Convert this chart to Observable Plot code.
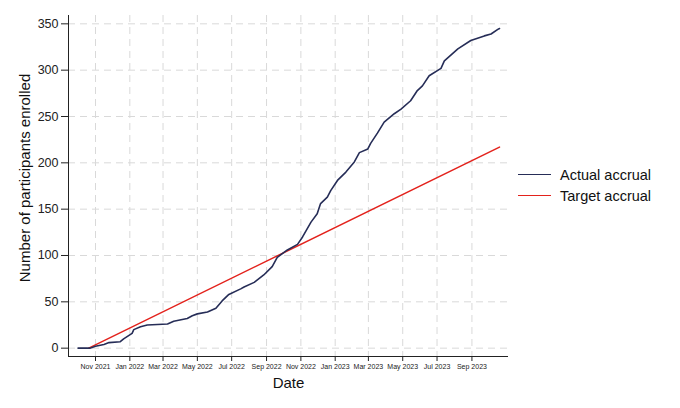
<!DOCTYPE html>
<html>
<head>
<meta charset="utf-8">
<script src="https://cdn.jsdelivr.net/npm/d3@7"></script>
<script src="https://cdn.jsdelivr.net/npm/@observablehq/plot@0.6"></script>
<style>
  html, body { margin: 0; padding: 0; background: #fff; }
  #wrap { position: relative; width: 680px; height: 408px; font-family: "Liberation Sans", Arial, sans-serif; }
  #legend { position: absolute; left: 518px; top: 164px; font-size: 14.5px; color: #111; }
  .item { display: flex; align-items: center; height: 21px; }
  .sw { width: 33px; height: 0; border-top: 1.5px solid; margin-right: 9px; }
</style>
</head>
<body>
<div id="wrap"><div id="legend"></div></div>
<script>
// Actual accrual: dates and cumulative participants
const actualDates = [
  "2021-10-01","2021-10-22","2021-11-01","2021-11-16","2021-11-25","2021-12-15","2021-12-21",
  "2022-01-05","2022-01-08","2022-01-20","2022-02-01","2022-03-09","2022-03-20","2022-04-13",
  "2022-04-22","2022-05-01","2022-05-19","2022-06-03","2022-06-14","2022-06-26","2022-07-17",
  "2022-07-23","2022-08-10","2022-08-27","2022-09-11","2022-09-20","2022-10-08","2022-10-26",
  "2022-11-04","2022-11-19","2022-11-30","2022-12-06","2022-12-18","2022-12-24","2023-01-05",
  "2023-01-20","2023-02-04","2023-02-13","2023-02-28","2023-03-05","2023-03-17","2023-03-29",
  "2023-04-16","2023-04-28","2023-05-15","2023-05-27","2023-06-05","2023-06-17","2023-07-08",
  "2023-07-14","2023-08-07","2023-08-30","2023-09-23","2023-10-05","2023-10-17","2023-10-20"
];
const actualValues = [
  0,0,2,4,6,7,10,
  16,20,23,25,26,29,32,
  35,37,39,43,51,58,64,
  66,71,79,88,98,106,112,
  120,136,145,156,163,170,181,
  190,201,211,215,221,232,244,
  253,258,267,278,283,294,302,
  310,323,332,337,339,344,345
];
// Target accrual: straight line from start to end
const targetDates = ["2021-10-20", "2023-10-20"];
const targetValues = [0, 217];

const xTickDates = ["2021-11-01","2022-01-01","2022-03-01","2022-05-01","2022-07-01","2022-09-01",
                    "2022-11-01","2023-01-01","2023-03-01","2023-05-01","2023-07-01","2023-09-01"];
const yTicks = [0, 50, 100, 150, 200, 250, 300, 350];
const xDomain = ["2021-09-14", "2023-11-05"];
const yDomain = [-9, 359];

const seriesNames = ["Actual accrual", "Target accrual"];
const seriesColors = ["#262d57", "#e3221c"];

const parse = d3.utcParse("%Y-%m-%d");
const actual = actualDates.map((d, i) => ({date: parse(d), value: actualValues[i]}));
const target = targetDates.map((d, i) => ({date: parse(d), value: targetValues[i]}));
const xTicks = xTickDates.map(parse);

const chart = Plot.plot({
  width: 680,
  height: 408,
  marginLeft: 68,
  marginRight: 172,
  marginTop: 15,
  marginBottom: 52,
  style: {fontFamily: "'Liberation Sans', Arial, sans-serif", color: "#222", background: "#fff"},
  x: {type: "utc", domain: xDomain.map(parse)},
  y: {domain: yDomain},
  marks: [
    Plot.gridY(yTicks, {stroke: "#d9d9d9", strokeOpacity: 1, strokeDasharray: "7,5"}),
    Plot.gridX(xTicks, {stroke: "#d9d9d9", strokeOpacity: 1, strokeDasharray: "7,5"}),
    Plot.ruleX([parse(xDomain[0])], {stroke: "#222", strokeWidth: 1}),
    Plot.ruleY([yDomain[0]], {stroke: "#222", strokeWidth: 1}),
    Plot.line(target, {x: "date", y: "value", stroke: seriesColors[1], strokeWidth: 1.5}),
    Plot.line(actual, {x: "date", y: "value", stroke: seriesColors[0], strokeWidth: 1.6}),
    Plot.axisX(xTicks, {tickFormat: d3.utcFormat("%b %Y"), fontSize: 7, tickSize: 5, tickPadding: 3, label: null, stroke: "#222"}),
    Plot.axisY(yTicks, {fontSize: 12.5, tickSize: 7, tickPadding: 3, label: null, stroke: "#222"}),
    Plot.text(["Date"], {frameAnchor: "bottom", dy: 27, lineAnchor: "middle", fontSize: 15, fill: "#111"}),
    Plot.text(["Number of participants enrolled"], {frameAnchor: "left", dx: -43, dy: -8, rotate: -90, textAnchor: "middle", lineAnchor: "middle", fontSize: 15, fill: "#111"})
  ]
});
document.getElementById("wrap").prepend(chart);

const legend = document.getElementById("legend");
seriesNames.forEach((name, i) => {
  const item = document.createElement("div");
  item.className = "item";
  const sw = document.createElement("span");
  sw.className = "sw";
  sw.style.borderTopColor = seriesColors[i];
  const label = document.createElement("span");
  label.textContent = name;
  item.append(sw, label);
  legend.append(item);
});
</script>
</body>
</html>
